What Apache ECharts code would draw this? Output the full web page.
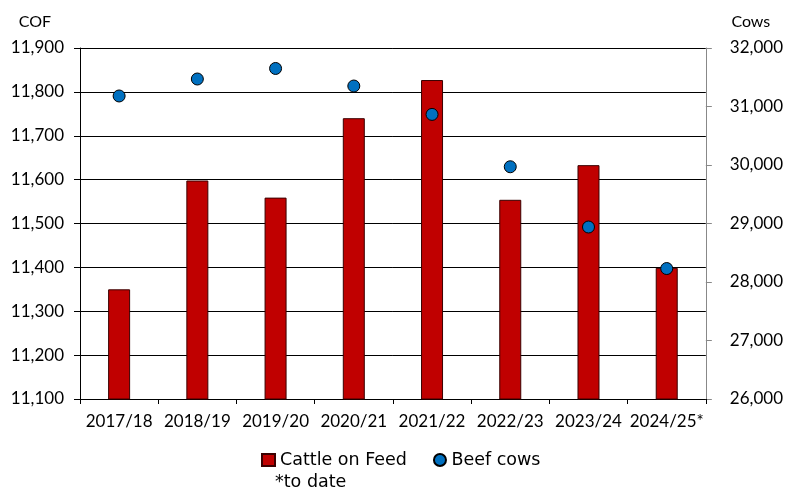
<!DOCTYPE html>
<html>
<head>
<meta charset="utf-8">
<script src="https://cdn.jsdelivr.net/npm/echarts@6/dist/echarts.min.js"></script>
<style>
  html, body { margin: 0; padding: 0; background: #fff; }
  #chart { width: 786px; height: 492px; }
</style>
</head>
<body>
<div id="chart"></div>
<script>
// Marketing years
const seasons = ['2017/18', '2018/19', '2019/20', '2020/21', '2021/22', '2022/23', '2023/24', '2024/25*'];
// Cattle on feed (left axis)
const cattleOnFeed = [11350, 11598, 11559, 11740, 11827, 11554, 11633, 11399];
// Beef cows (right axis)
const beefCows = [31180, 31470, 31650, 31350, 30865, 29970, 28940, 28230];

const FONT = 'Lato';
const LEGEND_FONT = 'DejaVu Sans';
const chart = echarts.init(document.getElementById('chart'));

chart.setOption({
  animation: false,
  textStyle: { fontFamily: FONT, color: '#000' },
  grid: { left: 80, right: 79, top: 48, bottom: 93 },
  legend: {
    top: 446,
    left: 256,
    itemWidth: 13,
    itemHeight: 12,
    itemGap: 26,
    textStyle: { fontFamily: LEGEND_FONT, fontSize: 17.5, color: '#000' },
    data: [
      { name: 'Cattle on Feed', icon: 'rect' },
      { name: 'Beef cows', icon: 'circle' }
    ]
  },
  graphic: [{
    type: 'text',
    left: 275,
    top: 473,
    style: { text: '*to date', font: '17.5px "' + LEGEND_FONT + '"', fill: '#000' }
  }],
  xAxis: {
    type: 'category',
    data: seasons,
    axisLine: { lineStyle: { color: '#000', width: 1 } },
    axisTick: { show: true, length: 5, lineStyle: { color: '#000' } },
    axisLabel: { fontSize: 17, color: '#000', margin: 14, interval: 0 }
  },
  yAxis: [
    {
      type: 'value',
      name: 'COF',
      nameLocation: 'end',
      nameGap: 18,
      nameTextStyle: { fontSize: 16, color: '#000', align: 'center', padding: [0, 0, 0, -90] },
      min: 11100,
      max: 11900,
      interval: 100,
      axisLine: { show: true, lineStyle: { color: '#000' } },
      axisTick: { show: true, length: 6, lineStyle: { color: '#000' } },
      splitLine: { lineStyle: { color: '#000', width: 1 } },
      axisLabel: { fontSize: 17, color: '#000', margin: 16,
        formatter: v => v.toLocaleString('en-US') }
    },
    {
      type: 'value',
      name: 'Cows',
      nameLocation: 'end',
      nameGap: 18,
      nameTextStyle: { fontSize: 16, color: '#000', align: 'center', padding: [0, 0, 0, 90] },
      min: 26000,
      max: 32000,
      interval: 1000,
      position: 'right',
      axisLine: { show: true, lineStyle: { color: '#888' } },
      axisTick: { show: true, length: 6, lineStyle: { color: '#888' } },
      splitLine: { show: false },
      axisLabel: { fontSize: 17, color: '#000', margin: 24,
        formatter: v => v.toLocaleString('en-US') }
    }
  ],
  series: [
    {
      name: 'Cattle on Feed',
      type: 'bar',
      yAxisIndex: 0,
      data: cattleOnFeed,
      barWidth: 22,
      itemStyle: { color: '#C00000', borderColor: '#3a0000', borderWidth: 1 }
    },
    {
      name: 'Beef cows',
      type: 'scatter',
      yAxisIndex: 1,
      data: beefCows,
      symbol: 'circle',
      symbolSize: 12,
      z: 5,
      itemStyle: { color: '#0070C0', borderColor: '#000', borderWidth: 1, opacity: 1 }
    }
  ]
});
</script>
</body>
</html>
